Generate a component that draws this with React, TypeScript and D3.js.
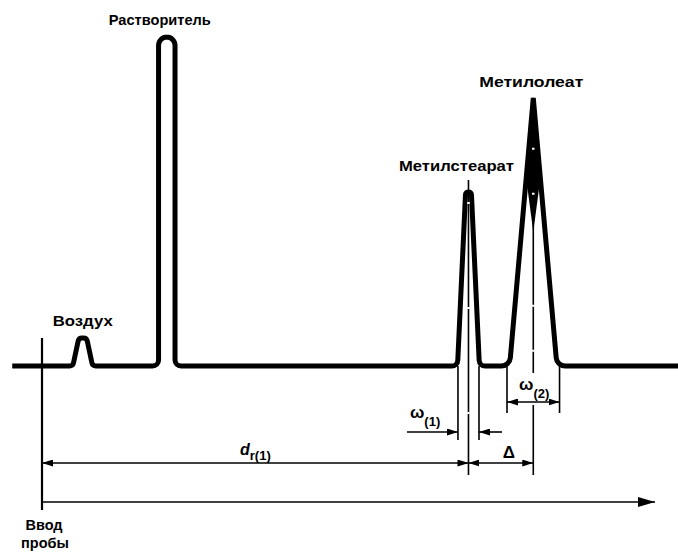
import React from 'react';
import * as d3 from 'd3';

// chromatogram peaks
const peakNames = ['Воздух', 'Растворитель', 'Метилстеарат', 'Метилолеат'];
const retentionTimes = [0.93, 2.85, 9.74, 11.22];
const peakHeights = [8.5, 100, 53, 81.5];

// peak outline: relative level (0 = base, 1 = top) and half width (time units)
const profileLevels = [[0, 1], [0, 1], [0, 1], [0, 1]];
const profileHalfWidths = [
  [0.225, 0.09],
  [0.188, 0.188],
  [0.25, 0.065],
  [0.54, 0],
];

// widths used for the resolution, ω(1) and ω(2)
const omegaWidths = [0.48, 1.2];

const W = 678;
const H = 556;
const font = '"Liberation Sans", Arial, sans-serif';

const x = d3.scaleLinear().domain([0, 14]).range([42, 655]);
const y = d3.scaleLinear().domain([0, 100]).range([366, 37]);

// corner radii per outline point (px)
const cornerRadii = [[4, 4], [6, 8.3], [6, 3], [9, 0]];
// label placement relative to the peak top, and text widths
const labelOffsets = [[0, -12], [-7, -12], [-12, -21], [-2, -11]];
const labelLengths = [60, 102, 115, 104];
// the narrow top of the second ester peak is drawn solid: side level and centre level
const solidSideLevel = 0.7;
const solidCentreLevel = 0.5;

const App: React.FC = () => {
  const y0 = y(0);

  const pts: [number, number, number][] = [[x(-0.68), y0, 0]];
  retentionTimes.forEach((t, i) => {
    const c = x(t);
    const lv = profileLevels[i];
    const hw = profileHalfWidths[i];
    const r = cornerRadii[i];
    const left: [number, number, number][] = [];
    lv.forEach((l, j) => {
      const yy = y(peakHeights[i] * l);
      const dx = x(t + hw[j]) - c;
      left.push([c - dx, yy, r[j]]);
    });
    const last = left[left.length - 1];
    const right = left.map(([px, py, pr]) => [2 * c - px, py, pr] as [number, number, number]).reverse();
    if (last[0] === c) right.shift();
    pts.push(...left, ...right);
  });
  pts.push([W + 5, y0, 0]);

  const p = d3.path();
  p.moveTo(pts[0][0], pts[0][1]);
  for (let i = 1; i < pts.length - 1; i++) {
    p.arcTo(pts[i][0], pts[i][1], pts[i + 1][0], pts[i + 1][1], pts[i][2]);
  }
  p.lineTo(pts[pts.length - 1][0], pts[pts.length - 1][1]);

  const xInj = x(0);
  const c1 = x(retentionTimes[2]);
  const c2 = x(retentionTimes[3]);
  const w1 = x(retentionTimes[2] + omegaWidths[0] / 2) - c1;
  const w2 = x(retentionTimes[3] + omegaWidths[1] / 2) - c2;

  // solid wedge at top of oleate peak
  const tip = y(peakHeights[3]);
  const sideY = y(peakHeights[3] * solidSideLevel);
  const sideHw = (x(retentionTimes[3] + profileHalfWidths[3][0]) - c2) * (1 - solidSideLevel);
  const centreY = y(peakHeights[3] * solidCentreLevel);
  const wedge = `M${c2},${tip}L${c2 - sideHw},${sideY}L${c2},${centreY}L${c2 + sideHw},${sideY}Z`;

  const rowW2 = 402;
  const rowW1 = 432;
  const rowD = 463;
  const rowT = 502;

  const thin = { stroke: '#000', strokeWidth: 1.6, fill: 'none' };

  return (
    <svg width={W} height={H} style={{ position: 'absolute', left: 0, top: 0, background: '#fff' }}
      fontFamily={font} fontWeight="bold">
      <defs>
        <marker id="ar" viewBox="0 0 11 7" refX="11" refY="3.5" markerWidth="11" markerHeight="7"
          markerUnits="userSpaceOnUse" orient="auto-start-reverse">
          <path d="M0,0L11,3.5L0,7z" fill="#000" />
        </marker>
        <marker id="big" viewBox="0 0 17 10" refX="17" refY="5" markerWidth="17" markerHeight="10"
          markerUnits="userSpaceOnUse" orient="auto">
          <path d="M0,0L17,5L0,10z" fill="#000" />
        </marker>
      </defs>

      {/* injection mark */}
      <line x1={xInj} x2={xInj} y1={y0 - 28} y2={510} stroke="#000" strokeWidth={2.2} />

      {/* chromatogram */}
      <path d={wedge} fill="#000" />
      <path d={p.toString()} fill="none" stroke="#000" strokeWidth={5} strokeLinejoin="miter" />

      {/* centre lines */}
      <line x1={c1} x2={c1} y1={180} y2={475} {...thin} />
      <line x1={c1} x2={c1} y1={180} y2={475} stroke="#fff" strokeWidth={2.5}
        strokeDasharray="2 103" strokeDashoffset={83} />
      <line x1={c2} x2={c2} y1={tip} y2={373} {...thin} />
      <line x1={c2} x2={c2} y1={tip + 50} y2={373} stroke="#fff" strokeWidth={2.5}
        strokeDasharray="2 43 2 110" strokeDashoffset={0} />
      <line x1={c2} x2={c2} y1={405} y2={475} {...thin} />

      {/* extension lines */}
      <line x1={c1 - w1} x2={c1 - w1} y1={y0} y2={440} {...thin} />
      <line x1={c1 + w1} x2={c1 + w1} y1={y0} y2={440} {...thin} />
      <line x1={c2 - w2} x2={c2 - w2} y1={y0} y2={413} {...thin} />
      <line x1={c2 + w2} x2={c2 + w2} y1={y0} y2={413} {...thin} />

      {/* ω(2) */}
      <line x1={c2 - w2} x2={c2 + w2} y1={rowW2} y2={rowW2} {...thin}
        markerStart="url(#ar)" markerEnd="url(#ar)" />
      {/* ω(1) */}
      <line x1={c1 - w1 - 51} x2={c1 - w1} y1={rowW1} y2={rowW1} {...thin} markerEnd="url(#ar)" />
      <line x1={c1 + w1 + 23} x2={c1 + w1} y1={rowW1} y2={rowW1} {...thin} markerEnd="url(#ar)" />
      {/* d r(1) and Δ */}
      <line x1={xInj} x2={c1} y1={rowD} y2={rowD} {...thin} markerStart="url(#ar)" markerEnd="url(#ar)" />
      <line x1={c1} x2={c2} y1={rowD} y2={rowD} {...thin} markerStart="url(#ar)" markerEnd="url(#ar)" />
      {/* time axis */}
      <line x1={xInj} x2={x(14)} y1={rowT} y2={rowT} {...thin} markerEnd="url(#big)" />

      {/* peak labels */}
      {peakNames.map((n, i) => (
        <text key={n} x={x(retentionTimes[i]) + labelOffsets[i][0]} y={y(peakHeights[i]) + labelOffsets[i][1]}
          textAnchor="middle" fontSize={14.5} textLength={labelLengths[i]} lengthAdjust="spacingAndGlyphs">{n}</text>
      ))}

      {/* dimension labels */}
      <text x={c1 - w1 - 48} y={418} fontSize={17}>ω<tspan fontSize={13} dy={8}>(1)</tspan></text>
      <text x={c2 - w2 + 12} y={390} fontSize={17}>ω<tspan fontSize={13} dy={8}>(2)</tspan></text>
      <text x={240} y={455} fontSize={16} fontStyle="italic">d<tspan
        fontSize={13} fontStyle="normal" dy={5}>r(1)</tspan></text>
      <text x={(c1 + c2) / 2 + 8} y={458} fontSize={17} textAnchor="middle">Δ</text>

      <text x={xInj + 2} y={530} fontSize={14.5} textAnchor="middle">Ввод</text>
      <text x={xInj + 3} y={548} fontSize={14.5} textAnchor="middle">пробы</text>
    </svg>
  );
};

export default App;
